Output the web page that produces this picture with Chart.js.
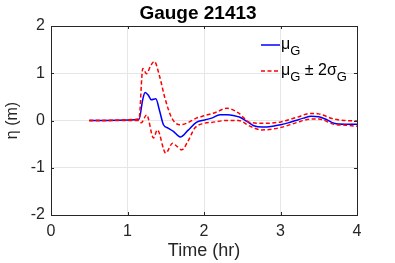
<!DOCTYPE html>
<html><head><meta charset="utf-8">
<script src="https://cdn.jsdelivr.net/npm/chart.js@4"></script>
<style>html,body{margin:0;padding:0;background:#fff}canvas{display:block}</style>
</head><body>
<canvas id="c" width="395" height="263"></canvas>
<script>
const meanT = [0.5,1.15,1.2,1.23,1.27,1.31,1.37,1.42,1.47,1.53,1.6,1.69,1.79,1.9,2.01,2.1,2.21,2.3,2.4,2.47,2.56,2.65,2.76,2.9,3.0,3.1,3.2,3.3,3.4,3.5,3.6,3.7,3.85,4.0];
const meanV = [0,0.02,0.45,0.59,0.54,0.44,0.46,0.2,-0.09,-0.16,-0.23,-0.35,-0.21,-0.04,0.01,0.05,0.12,0.12,0.1,0.07,-0.02,-0.11,-0.14,-0.12,-0.09,-0.05,0.0,0.05,0.09,0.08,0.02,-0.06,-0.08,-0.08];
const upT = [0.5,1.15,1.2,1.25,1.3,1.35,1.42,1.49,1.58,1.69,1.77,1.9,2.0,2.15,2.3,2.45,2.6,2.8,3.0,3.2,3.4,3.5,3.7,3.85,4.0];
const upV = [0,0.03,1.1,0.99,1.15,1.25,0.93,0.47,0.05,-0.09,-0.06,0.05,0.1,0.17,0.26,0.16,-0.04,-0.06,-0.03,0.06,0.15,0.14,0.03,0.0,-0.01];
const loT = [0.5,1.15,1.18,1.25,1.34,1.39,1.5,1.59,1.64,1.71,1.79,1.88,2.0,2.1,2.3,2.45,2.6,2.75,3.0,3.2,3.4,3.5,3.7,3.85,4.0];
const loV = [0,0,-0.05,0.12,-0.37,-0.2,-0.69,-0.48,-0.54,-0.62,-0.44,-0.16,-0.06,-0.04,0.0,0.0,-0.12,-0.2,-0.15,-0.05,0.03,0.03,-0.08,-0.1,-0.12];
const xTicks = [0,1,2,3,4];
const yTicks = [-2,-1,0,1,2];

const pts = (t,v)=>t.map((x,i)=>({x:x,y:v[i]}));
const FONT = '"Liberation Sans", Arial, sans-serif';
const AX = '#262626';

const frame = {
  id:'frame',
  afterDraw(chart){
    const {ctx, chartArea:a} = chart;
    ctx.save();
    // title
    ctx.fillStyle = '#000'; ctx.textAlign = 'center'; ctx.textBaseline = 'alphabetic';
    ctx.font = 'bold 19px '+FONT;
    ctx.fillText('Gauge 21413', 198, 19);
    ctx.strokeStyle = AX; ctx.lineWidth = 1;
    ctx.strokeRect(Math.round(a.left)+0.5, Math.round(a.top)+0.5, Math.round(a.right-a.left), Math.round(a.bottom-a.top));
    // inner ticks
    const xs = chart.scales.x, ys = chart.scales.y;
    ctx.beginPath();
    xTicks.forEach(v=>{const px=Math.round(xs.getPixelForValue(v))+0.5;
      ctx.moveTo(px,a.bottom);ctx.lineTo(px,a.bottom-3);ctx.moveTo(px,a.top);ctx.lineTo(px,a.top+3);});
    yTicks.forEach(v=>{const py=Math.round(ys.getPixelForValue(v))+0.5;
      ctx.moveTo(a.left,py);ctx.lineTo(a.left+3,py);ctx.moveTo(a.right,py);ctx.lineTo(a.right-3,py);});
    ctx.stroke();
    // legend
    const lx = 261, y1 = 45, y2 = 71;
    ctx.lineWidth = 1.5;
    ctx.strokeStyle = '#0000ff'; ctx.setLineDash([]);
    ctx.beginPath(); ctx.moveTo(lx,y1); ctx.lineTo(lx+19,y1); ctx.stroke();
    ctx.strokeStyle = '#ff0000'; ctx.setLineDash([4,2.5]);
    ctx.beginPath(); ctx.moveTo(lx,y2); ctx.lineTo(lx+19,y2); ctx.stroke();
    ctx.setLineDash([]);
    ctx.fillStyle = '#000'; ctx.textAlign='left';
    const big = '16px '+FONT, sub = '13px '+FONT;
    const drawSeq = (x,y,parts)=>{parts.forEach(p=>{ctx.font=p[1];ctx.fillText(p[0],x,y+p[2]);x+=ctx.measureText(p[0]).width;});};
    drawSeq(lx+20,y1+4,[['μ',big,0],['G',sub,6]]);
    drawSeq(lx+20,y2+4,[['μ',big,0],['G',sub,6],[' ± 2',big,0],['σ',big,0],['G',sub,6]]);
    ctx.restore();
  }
};

new Chart(document.getElementById('c'), {
  type:'line',
  data:{datasets:[
    {data:pts(upT,upV),borderColor:'#ff0000',borderWidth:1.5,borderDash:[4,2.5],pointRadius:0,cubicInterpolationMode:'monotone',fill:false},
    {data:pts(loT,loV),borderColor:'#ff0000',borderWidth:1.5,borderDash:[4,2.5],pointRadius:0,cubicInterpolationMode:'monotone',fill:false},
    {data:pts(meanT,meanV),borderColor:'#0000ff',borderWidth:1.5,pointRadius:0,cubicInterpolationMode:'monotone',fill:false}
  ]},
  options:{
    responsive:false, animation:false,
    layout:{padding:{left:0,right:38,top:26,bottom:0}},
    plugins:{legend:{display:false},tooltip:{enabled:false},title:{display:false}},
    scales:{
      x:{type:'linear',min:0,max:4,
        afterBuildTicks(s){s.ticks=xTicks.map(v=>({value:v}));},
        afterFit(s){s.height=48;},
        grid:{color:'#e6e6e6',drawTicks:false},border:{display:false},
        ticks:{color:AX,font:{family:FONT,size:16},padding:7,maxRotation:0},
        title:{display:true,text:'Time (hr)',color:AX,font:{family:FONT,size:18},padding:{top:0,bottom:1}}},
      y:{type:'linear',min:-2,max:2,
        afterBuildTicks(s){s.ticks=yTicks.map(v=>({value:v}));},
        afterFit(s){s.width=51;},
        grid:{color:'#e6e6e6',drawTicks:false},border:{display:false},
        ticks:{color:AX,font:{family:FONT,size:16},padding:6},
        title:{display:true,text:'η (m)',color:AX,font:{family:FONT,size:16},padding:{top:3,bottom:0}}}
    }
  },
  plugins:[frame]
});
</script>
</body></html>
